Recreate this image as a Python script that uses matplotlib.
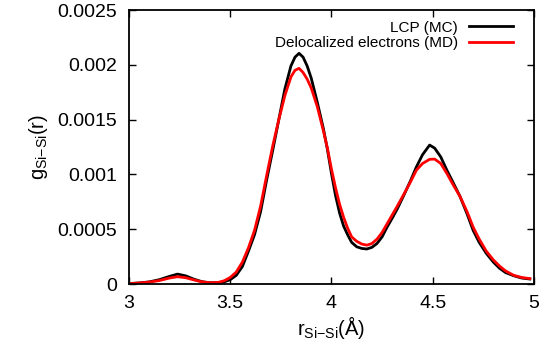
import matplotlib
matplotlib.use('Agg')
import matplotlib.pyplot as plt

plt.rcParams['font.family'] = ['Liberation Sans', 'DejaVu Sans']
plt.rcParams['mathtext.fontset'] = 'custom'
plt.rcParams['mathtext.rm'] = 'Liberation Sans'

r = [3.00, 3.05, 3.10, 3.15, 3.20, 3.24, 3.28, 3.32, 3.36, 3.40, 3.44, 3.47, 3.50,
     3.53, 3.56, 3.59, 3.62, 3.65, 3.68, 3.71, 3.74, 3.77, 3.80, 3.82, 3.84, 3.86,
     3.88, 3.90, 3.93, 3.96, 3.98, 4.00, 4.02, 4.04, 4.06, 4.08, 4.10, 4.125, 4.15,
     4.175, 4.20, 4.225, 4.25, 4.275, 4.30, 4.325, 4.355, 4.39, 4.42, 4.45, 4.485,
     4.51, 4.54, 4.57, 4.60, 4.635, 4.67, 4.70, 4.73, 4.765, 4.80, 4.83, 4.86, 4.90,
     4.94, 4.98]

# LCP (MC), in units of 1e-3
g_mc = [0.005, 0.01, 0.02, 0.04, 0.07, 0.091, 0.075, 0.045, 0.022, 0.012, 0.012, 0.02,
        0.04, 0.08, 0.16, 0.30, 0.45, 0.66, 0.95, 1.22, 1.50, 1.78, 1.99, 2.07, 2.105,
        2.07, 1.99, 1.88, 1.66, 1.42, 1.23, 1.01, 0.81, 0.65, 0.53, 0.45, 0.38, 0.34,
        0.325, 0.32, 0.335, 0.37, 0.43, 0.52, 0.60, 0.685, 0.80, 0.94, 1.07, 1.18,
        1.268, 1.24, 1.16, 1.04, 0.93, 0.80, 0.64, 0.49, 0.38, 0.28, 0.20, 0.145,
        0.105, 0.076, 0.055, 0.046]

# Delocalized electrons (MD), in units of 1e-3
g_md = [0.003, 0.01, 0.018, 0.032, 0.055, 0.067, 0.058, 0.038, 0.02, 0.012, 0.015, 0.03,
        0.06, 0.11, 0.20, 0.33, 0.49, 0.71, 0.99, 1.26, 1.50, 1.72, 1.89, 1.95, 1.968,
        1.93, 1.87, 1.79, 1.62, 1.40, 1.24, 1.05, 0.88, 0.73, 0.61, 0.51, 0.43, 0.39,
        0.365, 0.355, 0.37, 0.41, 0.47, 0.55, 0.63, 0.71, 0.81, 0.93, 1.04, 1.10,
        1.138, 1.14, 1.10, 1.01, 0.91, 0.80, 0.66, 0.52, 0.41, 0.30, 0.22, 0.165,
        0.12, 0.08, 0.06, 0.05]

fig = plt.figure(figsize=(5.42, 3.46), dpi=100)
ax = fig.add_axes([0.238, 0.179, 0.747, 0.792])

ax.plot(r, [v * 1e-3 for v in g_mc], color='black', lw=2, label='LCP (MC)',
        solid_joinstyle='round')
ax.plot(r, [v * 1e-3 for v in g_md], color='#ff0000', lw=2,
        label='Delocalized electrons (MD)', solid_joinstyle='round')

ax.set_xlim(3, 5)
ax.set_ylim(0, 0.0025)
ax.set_xticks([3, 3.5, 4, 4.5, 5])
ax.set_xticklabels(['3', '3.5', '4', '4.5', '5'])
ax.set_yticks([0, 0.0005, 0.001, 0.0015, 0.002, 0.0025])
ax.set_yticklabels(['0', '0.0005', '0.001', '0.0015', '0.002', '0.0025'])
ax.tick_params(direction='in', top=True, right=True, length=5, width=1,
               labelsize=14)
ax.tick_params(axis='y', pad=8.5)
ax.tick_params(axis='x', pad=8)
for s in ax.spines.values():
    s.set_linewidth(1.3)

ax.set_xlabel(r'r$_{\mathregular{Si{-}Si}}$(Å)', fontsize=14.5, labelpad=1)
ax.set_ylabel(r'g$_{\mathregular{Si{-}Si}}$(r)', fontsize=14.5, labelpad=5)

ax.legend(loc='upper right', frameon=False, markerfirst=False, fontsize=11,
          handlelength=2.9, handletextpad=0.7, labelspacing=0.1,
          borderaxespad=0.3, bbox_to_anchor=(0.975, 1.0))

fig.savefig('out.png', dpi=100)
